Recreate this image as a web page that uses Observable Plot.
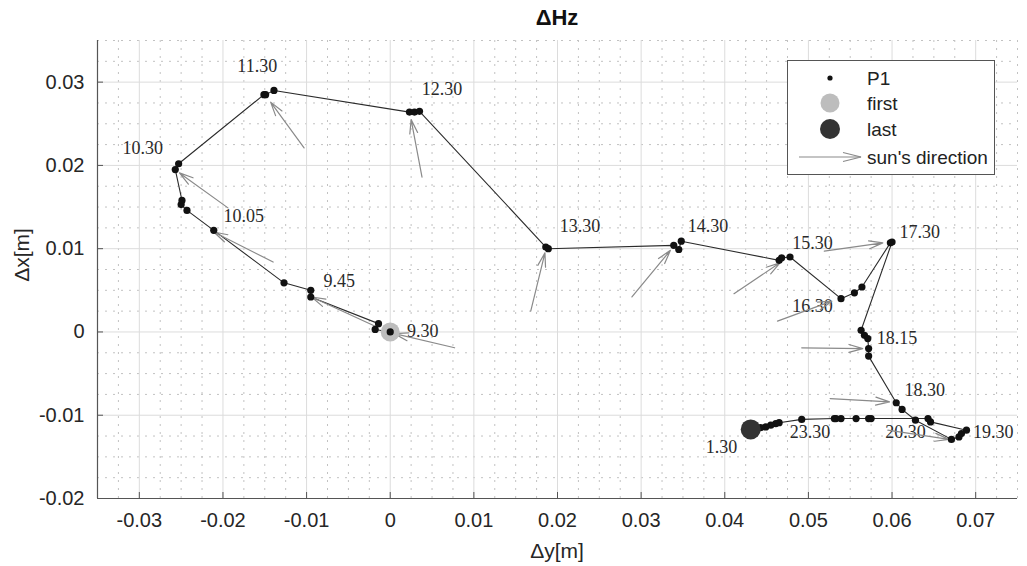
<!DOCTYPE html>
<html>
<head>
<meta charset="utf-8">
<script src="https://cdn.jsdelivr.net/npm/d3@7"></script>
<script src="https://cdn.jsdelivr.net/npm/@observablehq/plot@0.6"></script>
<style>
  body { margin: 0; background: #fff; }
  #wrap { position: relative; width: 1027px; height: 566px; overflow: hidden; }
  .ov { position: absolute; font-family: "Liberation Sans", Arial, sans-serif; color: #262626; white-space: nowrap; }
</style>
</head>
<body>
<div id="wrap"></div>
<script>
// ---- data (Δy = horizontal axis, Δx = vertical axis), metres ----
const pathDy = [0.0000, -0.0018, -0.0014, -0.0095, -0.0095, -0.0127, -0.0211, -0.0243, -0.0250, -0.0249,
  -0.0257, -0.0253, -0.0151, -0.0149, -0.0139, 0.0023, 0.0029, 0.0035, 0.0186, 0.0189,
  0.0339, 0.0345, 0.0348, 0.0465, 0.0468, 0.0478, 0.0539, 0.0555, 0.0564, 0.0598,
  0.0600, 0.0563, 0.0567, 0.0571, 0.0572, 0.0572, 0.0605, 0.0612, 0.0628, 0.0671,
  0.0680, 0.0683, 0.0689, 0.0646, 0.0643, 0.0575, 0.0572, 0.0557, 0.0539, 0.0533,
  0.0531, 0.0492, 0.0465, 0.0461, 0.0455, 0.0449, 0.0443, 0.0431];
const pathDx = [0.0000, 0.0003, 0.0010, 0.0042, 0.0050, 0.0059, 0.0122, 0.0146, 0.0153, 0.0158,
  0.0195, 0.0202, 0.0285, 0.0285, 0.0290, 0.0264, 0.0264, 0.0265, 0.0102, 0.0100,
  0.0104, 0.0099, 0.0109, 0.0086, 0.0089, 0.0090, 0.0040, 0.0047, 0.0054, 0.0107,
  0.0108, 0.0002, -0.0004, -0.0008, -0.0020, -0.0029, -0.0085, -0.0093, -0.0106, -0.0129,
  -0.0126, -0.0122, -0.0118, -0.0108, -0.0104, -0.0104, -0.0104, -0.0104, -0.0104, -0.0104,
  -0.0104, -0.0105, -0.0109, -0.0110, -0.0112, -0.0114, -0.0115, -0.0117];

// time labels
const timeLabels = ["11.30", "12.30", "10.30", "10.05", "9.45", "9.30", "13.30", "14.30", "15.30",
  "17.30", "16.30", "18.15", "18.30", "20.30", "19.30", "23.30", "1.30"];
const labelDy = [-0.0159, 0.0062, -0.0296, -0.0175, -0.0061, 0.0039, 0.0227, 0.0380, 0.0505,
  0.0633, 0.0505, 0.0606, 0.0639, 0.0616, 0.0721, 0.0502, 0.0396];
const labelDx = [0.0319, 0.0292, 0.0221, 0.0139, 0.0061, 0.0001, 0.0127, 0.0127, 0.0106,
  0.0120, 0.0031, -0.0007, -0.0070, -0.0120, -0.0120, -0.0121, -0.0138];

// sun's direction arrows (tail -> head)
const sunTailDy = [0.0077, -0.0016, -0.0140, -0.0194, -0.0103, 0.0038, 0.0168, 0.0289, 0.0411, 0.0463, 0.0519, 0.0492, 0.0526, 0.0595];
const sunTailDx = [-0.0019, 0.0006, 0.0084, 0.0149, 0.0221, 0.0186, 0.0025, 0.0042, 0.0046, 0.0013, 0.0097, -0.0019, -0.0080, -0.0118];
const sunHeadDy = [0.0005, -0.0094, -0.0211, -0.0252, -0.0143, 0.0025, 0.0185, 0.0335, 0.0466, 0.0528, 0.0589, 0.0565, 0.0597, 0.0668];
const sunHeadDx = [-0.0002, 0.0042, 0.0120, 0.0191, 0.0276, 0.0255, 0.0095, 0.0098, 0.0083, 0.0037, 0.0107, -0.0020, -0.0084, -0.0129];

// axis ticks
const xTicks = [-0.03, -0.02, -0.01, 0, 0.01, 0.02, 0.03, 0.04, 0.05, 0.06, 0.07];
const xTickLabels = ["-0.03", "-0.02", "-0.01", "0", "0.01", "0.02", "0.03", "0.04", "0.05", "0.06", "0.07"];
const yTicks = [-0.02, -0.01, 0, 0.01, 0.02, 0.03];
const yTickLabels = ["-0.02", "-0.01", "0", "0.01", "0.02", "0.03"];

// ---- build ----
const path = pathDy.map((d, i) => ({dy: d, dx: pathDx[i]}));
const labels = timeLabels.map((t, i) => ({t, dy: labelDy[i], dx: labelDx[i]}));
const arrows = sunTailDy.map((d, i) => ({x1: d, y1: sunTailDx[i], x2: sunHeadDy[i], y2: sunHeadDx[i]}));
const first = [path[0]];
const last = [path[path.length - 1]];

const xDomain = [-0.035, 0.075];
const yDomain = [-0.02, 0.035];
const minorX = d3.range(-0.035, 0.0751, 0.0025).filter(v => !xTicks.some(t => Math.abs(t - v) < 1e-6));
const minorY = d3.range(-0.02, 0.0351, 0.0025).filter(v => !yTicks.some(t => Math.abs(t - v) < 1e-6));

const W = 1027, H = 566, mL = 97, mR = 10, mT = 40, mB = 68;
const fw = W - mL - mR, fh = H - mT - mB;

const chart = Plot.plot({
  width: W, height: H,
  marginLeft: mL, marginRight: mR, marginTop: mT, marginBottom: mB,
  x: {domain: xDomain, ticks: xTicks},
  y: {domain: yDomain, ticks: yTicks},
  style: {fontFamily: "'Liberation Sans', Arial, sans-serif", fontSize: "20px", color: "#262626", background: "#fff", overflow: "visible"},
  marks: [
    Plot.gridX(minorX, {stroke: "#c2c2c2", strokeOpacity: 1, strokeDasharray: "2,6"}),
    Plot.gridY(minorY, {stroke: "#c2c2c2", strokeOpacity: 1, strokeDasharray: "2,6"}),
    Plot.gridX(xTicks, {stroke: "#dcdcdc", strokeOpacity: 1}),
    Plot.gridY(yTicks, {stroke: "#dcdcdc", strokeOpacity: 1}),
    Plot.ruleX([xDomain[0]], {stroke: "#555", strokeWidth: 1.2}),
    Plot.ruleY([yDomain[0]], {stroke: "#555", strokeWidth: 1.2}),
    Plot.tickX(xTicks, {x: d => d, insetTop: fh - 6, stroke: "#555"}),
    Plot.tickY(yTicks, {y: d => d, insetRight: fw - 6, stroke: "#555"}),
    Plot.axisX(xTicks, {tickSize: 0, tickPadding: 14, tickFormat: (d) => xTickLabels[xTicks.indexOf(d)], label: null, fill: "#262626"}),
    Plot.axisY(yTicks, {tickSize: 0, tickPadding: 13, tickFormat: (d) => yTickLabels[yTicks.indexOf(d)], label: null, fill: "#262626"}),
    Plot.text(labels, {x: "dy", y: "dx", text: "t", fontFamily: "'Liberation Serif', 'Times New Roman', serif", fontSize: 18, fill: "#2a2a2a", letterSpacing: "-0.7px"}),
    Plot.line(path, {x: "dy", y: "dx", stroke: "#2b2b2b", strokeWidth: 1.1}),
    Plot.arrow(arrows, {x1: "x1", y1: "y1", x2: "x2", y2: "y2", stroke: "#8a8a8a", strokeWidth: 1.2, headLength: 18, headAngle: 32}),
    Plot.dot(first, {x: "dy", y: "dx", r: 9.5, fill: "#bdbdbd"}),
    Plot.dot(path, {x: "dy", y: "dx", r: 3.6, fill: "#111"}),
    Plot.dot(last, {x: "dy", y: "dx", r: 10, fill: "#333"})
  ]
});

const wrap = document.getElementById("wrap");
wrap.appendChild(chart);

function overlay(html, css) {
  const d = document.createElement("div");
  d.className = "ov";
  d.innerHTML = html;
  Object.assign(d.style, css);
  wrap.appendChild(d);
  return d;
}
// title and axis labels
overlay("ΔHz", {left: "507px", width: "100px", textAlign: "center", top: "5px", fontSize: "22px", fontWeight: "bold", color: "#111"});
overlay("Δy[m]", {left: "507px", width: "100px", textAlign: "center", top: "539px", fontSize: "21px"});
overlay("Δx[m]", {left: "-28px", width: "100px", textAlign: "center", top: "243px", fontSize: "21px", transform: "rotate(-90deg)"});

// legend
overlay(`
<svg width="208" height="115" style="display:block">
  <rect x="0.5" y="0.5" width="207" height="114" fill="#fff" stroke="#555"/>
  <circle cx="43" cy="18" r="2.6" fill="#111"/>
  <circle cx="43" cy="43" r="9.5" fill="#bdbdbd"/>
  <circle cx="43" cy="69" r="10" fill="#333"/>
  <line x1="12" y1="97" x2="74" y2="97" stroke="#8a8a8a" stroke-width="1.2"/>
  <path d="M56,92.5 L74,97 L56,101.5" fill="none" stroke="#8a8a8a" stroke-width="1.2"/>
  <g font-family="'Liberation Sans', Arial, sans-serif" font-size="19" fill="#222">
    <text x="80" y="25">P1</text>
    <text x="80" y="50">first</text>
    <text x="80" y="76">last</text>
    <text x="80" y="104">sun's direction</text>
  </g>
</svg>`, {left: "787px", top: "60px"});
</script>
</body>
</html>
